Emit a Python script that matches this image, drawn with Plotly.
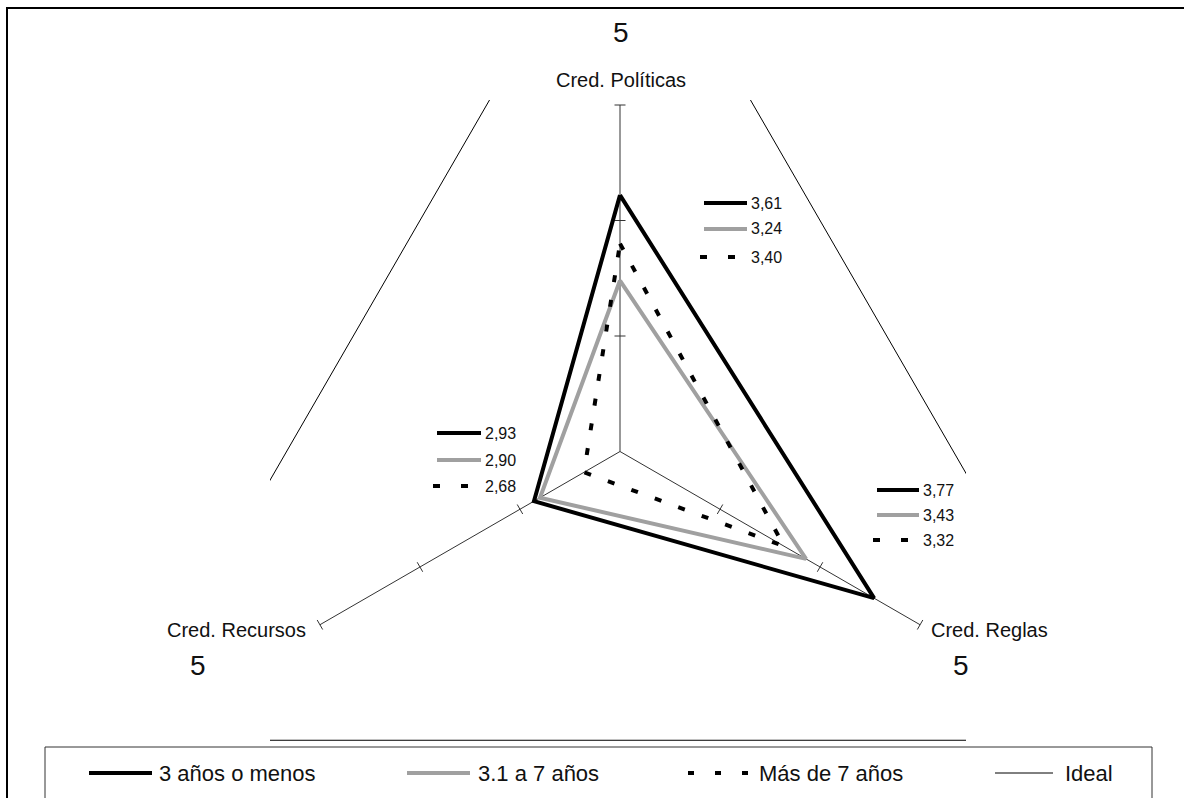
import math
import plotly.graph_objects as go

# ---- data ----------------------------------------------------------------
categories = ["Cred. Políticas", "Cred. Reglas", "Cred. Recursos"]
series_names = ["3 años o menos", "3.1 a 7 años", "Más de 7 años"]
menos_3 = [3.61, 3.77, 2.93]
de_3_a_7 = [3.24, 3.43, 2.90]
mas_7 = [3.40, 3.32, 2.68]
ideal_name = "Ideal"
ideal = [5, 5, 5]
axis_min, axis_max, tick_step = 2.5, 4.0, 0.5

# ---- geometry / style ----------------------------------------------------
W, H = 1184, 798
L, R, T, B = 270, 966, 100, 745          # plot-area edges in pixels
CX, CY, K = 620, 451.5, 231.0            # centre pixel and pixels per unit
ANGLES = [90, -30, 210]                  # direction of each category axis
FONT = "Liberation Sans, Arial, sans-serif"
TXT = "#111111"

series_values = [menos_3, de_3_a_7, mas_7]
series_style = [
    dict(color="#000000", width=4, dash="solid"),
    dict(color="#a0a0a0", width=4, dash="solid"),
    dict(color="#000000", width=4, dash="7px,18px"),
]


def to_xy(v, ang):
    r = v - axis_min
    a = math.radians(ang)
    return r * math.cos(a), r * math.sin(a)


def polygon(values):
    pts = [to_xy(v, a) for v, a in zip(values, ANGLES)]
    pts.append(pts[0])
    return [p[0] for p in pts], [p[1] for p in pts]


def px(x):
    return (x - L) / (R - L)


def py(y):
    return (B - y) / (B - T)


def fmt(v):
    return f"{v:.2f}".replace(".", ",")


fig = go.Figure()

# category axes with their tick marks
ticks = []
t = axis_min + tick_step
while t <= axis_max + 1e-9:
    ticks.append(t)
    t += tick_step
half = 5.5 / K
for ang in ANGLES:
    x0, y0 = to_xy(axis_min, ang)
    x1, y1 = to_xy(axis_max, ang)
    fig.add_trace(go.Scatter(x=[x0, x1], y=[y0, y1], mode="lines",
                             line=dict(color="#333333", width=1),
                             hoverinfo="skip", showlegend=False))
    nx, ny = -math.sin(math.radians(ang)), math.cos(math.radians(ang))
    for tv in ticks:
        tx, ty = to_xy(tv, ang)
        fig.add_trace(go.Scatter(x=[tx - nx * half, tx + nx * half],
                                 y=[ty - ny * half, ty + ny * half],
                                 mode="lines",
                                 line=dict(color="#333333", width=1),
                                 hoverinfo="skip", showlegend=False))

# ideal triangle (clipped by the plot area)
ix, iy = polygon(ideal)
fig.add_trace(go.Scatter(x=ix, y=iy, mode="lines", name=ideal_name,
                         line=dict(color="#000000", width=1),
                         showlegend=False))

# series polygons
for name, vals, st in zip(series_names, series_values, series_style):
    xs, ys = polygon(vals)
    fig.add_trace(go.Scatter(x=xs, y=ys, mode="lines", name=name,
                             line=dict(color=st["color"], width=st["width"],
                                       dash=st["dash"]),
                             showlegend=False))

shapes = []
annotations = []

# outer chart border
shapes.append(dict(type="rect", xref="paper", yref="paper",
                   x0=px(7), x1=px(1195), y0=py(8), y1=py(815),
                   line=dict(color="#000000", width=2)))

# category names and ideal values
cat_pos = [
    dict(x=621, y=80, xanchor="center"),
    dict(x=929, y=630, xanchor="left"),
    dict(x=308, y=630, xanchor="right"),
]
ideal_pos = [(621, 33), (961, 665), (198, 665)]
for i, cat in enumerate(categories):
    p = cat_pos[i]
    annotations.append(dict(x=px(p["x"]), y=py(p["y"]), xref="paper",
                            yref="paper", text=cat, showarrow=False,
                            xanchor=p["xanchor"], yanchor="middle",
                            font=dict(family=FONT, size=20, color=TXT)))
    annotations.append(dict(x=px(ideal_pos[i][0]), y=py(ideal_pos[i][1]),
                            xref="paper", yref="paper",
                            text=str(ideal[i]), showarrow=False,
                            xanchor="center", yanchor="middle",
                            font=dict(family=FONT, size=28, color=TXT)))

# value boxes next to each axis: (line start, text x, row y's)
value_boxes = [
    dict(x0=704, tx=749, rows=[203, 229, 257]),
    dict(x0=877, tx=921, rows=[490, 515, 540]),
    dict(x0=437, tx=483, rows=[433, 460, 486]),
]
for i, box in enumerate(value_boxes):
    for s, (vals, st) in enumerate(zip(series_values, series_style)):
        y = box["rows"][s]
        if st["dash"] == "solid":
            xa, xb, dash = box["x0"], box["tx"] - 2, "solid"
        else:
            xa, xb, dash = box["x0"] - 4, box["tx"] - 10, "7px,21px"
        shapes.append(dict(type="line", xref="paper", yref="paper",
                           x0=px(xa), x1=px(xb), y0=py(y), y1=py(y),
                           line=dict(color=st["color"], width=st["width"],
                                     dash=dash)))
        annotations.append(dict(x=px(box["tx"]), y=py(y), xref="paper",
                                yref="paper", text=fmt(vals[i]),
                                showarrow=False, xanchor="left",
                                yanchor="middle",
                                font=dict(family=FONT, size=16, color=TXT)))

# legend box
shapes.append(dict(type="rect", xref="paper", yref="paper",
                   x0=px(45), x1=px(1152), y0=py(747), y1=py(815),
                   line=dict(color="#333333", width=1)))
legend_items = [
    (series_names[0], series_style[0], 89, 152, 157),
    (series_names[1], series_style[1], 407, 470, 476),
    (series_names[2], dict(color="#000000", width=4, dash="6px,21px"),
     688, 748, 757),
    (ideal_name, dict(color="#000000", width=1, dash="solid"),
     995, 1053, 1063),
]
LY = 773
for name, st, xa, xb, tx in legend_items:
    shapes.append(dict(type="line", xref="paper", yref="paper",
                       x0=px(xa), x1=px(xb), y0=py(LY), y1=py(LY),
                       line=dict(color=st["color"], width=st["width"],
                                 dash=st["dash"])))
    annotations.append(dict(x=px(tx), y=py(LY), xref="paper", yref="paper",
                            text=name, showarrow=False, xanchor="left",
                            yanchor="middle",
                            font=dict(family=FONT, size=22, color=TXT)))

fig.update_layout(
    width=W, height=H,
    margin=dict(l=L, r=W - R, t=T, b=H - B, pad=0),
    paper_bgcolor="#ffffff", plot_bgcolor="#ffffff",
    xaxis=dict(range=[(L - CX) / K, (R - CX) / K], visible=False,
               fixedrange=True),
    yaxis=dict(range=[(CY - B) / K, (CY - T) / K], visible=False,
               fixedrange=True),
    shapes=shapes, annotations=annotations,
    showlegend=False,
)

fig.write_html("out.html")
